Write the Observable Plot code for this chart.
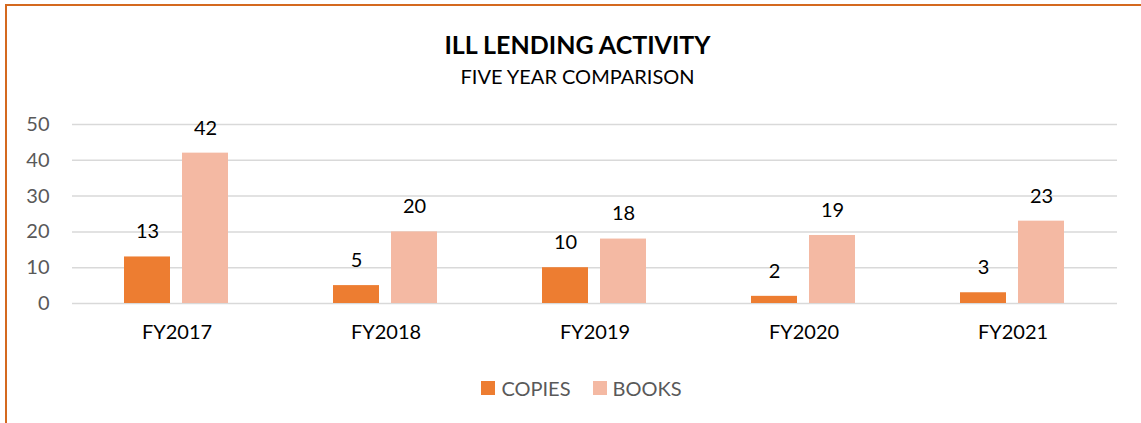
<!DOCTYPE html>
<html><head><meta charset="utf-8">
<script src="https://cdn.jsdelivr.net/npm/d3@7"></script>
<script src="https://cdn.jsdelivr.net/npm/@observablehq/plot@0.6"></script>
<style>
body{margin:0;background:#fff;font-family:Lato,"Open Sans",sans-serif;}
#wrap{position:relative;width:1141px;height:423px;overflow:hidden;background:#fff;}
#frame{position:absolute;left:5px;top:4px;width:1200px;height:500px;border-top:2px solid #D4691F;border-left:2px solid #D4691F;}
#title{position:absolute;left:0;width:1155px;top:29px;text-align:center;font-weight:bold;font-size:25px;line-height:30px;color:#000;}
#subtitle{position:absolute;left:0;width:1155px;top:63px;text-align:center;font-size:20px;line-height:26px;color:#000;}
#chart{position:absolute;left:0;top:100px;}
#legend{position:absolute;left:0;width:1163px;top:375px;display:flex;justify-content:center;gap:22px;font-size:20px;line-height:26px;color:#595959;}
#legend span.item{display:flex;align-items:center;gap:6px;}
#legend span.sw{display:inline-block;width:14px;height:14px;}
</style></head>
<body>
<div id="wrap">
  <div id="frame"></div>
  <div id="title">ILL LENDING ACTIVITY</div>
  <div id="subtitle">FIVE YEAR COMPARISON</div>
  <div id="chart"></div>
  <div id="legend"></div>
</div>
<script>
const years = ["FY2017", "FY2018", "FY2019", "FY2020", "FY2021"];
const seriesNames = ["COPIES", "BOOKS"];
const copies = [13, 5, 10, 2, 3];
const books = [42, 20, 18, 19, 23];
const yTicks = [0, 10, 20, 30, 40, 50];
const seriesColors = ["#ED7D31", "#F4B9A3"];

const data = [];
years.forEach((yr, i) => {
  data.push({year: yr, series: seriesNames[0], value: copies[i]});
  data.push({year: yr, series: seriesNames[1], value: books[i]});
});

const chart = Plot.plot({
  width: 1141,
  height: 250,
  marginLeft: 70,
  marginRight: 23,
  marginTop: 24,
  marginBottom: 47,
  style: {fontFamily: "Lato, 'Open Sans', sans-serif", background: "transparent"},
  fx: {domain: years, padding: 0, label: null},
  x: {domain: seriesNames, paddingInner: 0.2, paddingOuter: 0.876, axis: null},
  y: {domain: [0, 50], label: null},
  color: {domain: seriesNames, range: seriesColors},
  marks: [
    Plot.ruleY(yTicks, {stroke: "#D9D9D9", strokeWidth: 1.5}),
    Plot.barY(data, {fx: "year", x: "series", y: "value", fill: "series"}),
    Plot.text(data, {fx: "year", x: "series", y: "value", text: d => String(d.value), dy: -25, fontSize: 20, fill: "#000"}),
    Plot.axisY({ticks: yTicks, tickSize: 0, tickPadding: 23, fontSize: 20, fill: "#595959", label: null}),
    Plot.axisFx({anchor: "bottom", tickSize: 0, tickPadding: 21, fontSize: 20, fill: "#000", label: null})
  ]
});
document.getElementById("chart").appendChild(chart);

const legend = document.getElementById("legend");
seriesNames.forEach((s, i) => {
  const item = document.createElement("span");
  item.className = "item";
  const sw = document.createElement("span");
  sw.className = "sw";
  sw.style.background = seriesColors[i];
  item.appendChild(sw);
  item.appendChild(document.createTextNode(s));
  legend.appendChild(item);
});
</script>
</body></html>
